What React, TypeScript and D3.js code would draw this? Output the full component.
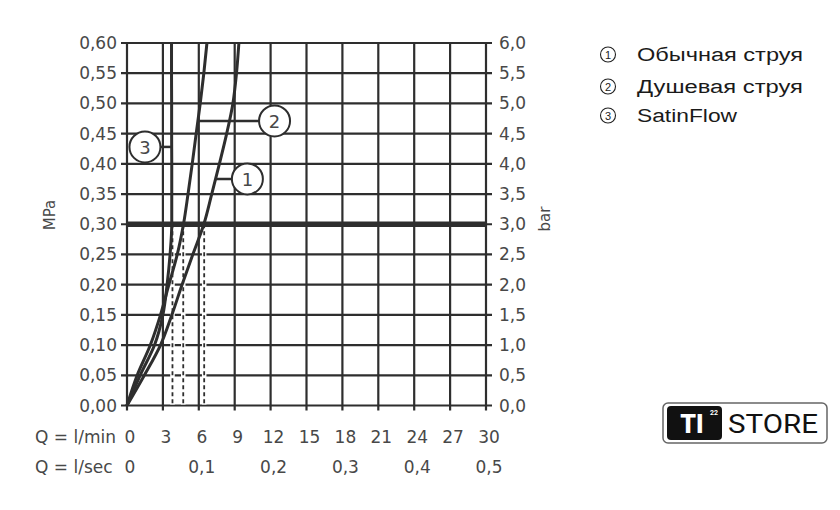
import React from 'react';
import * as d3 from 'd3';

// ---- data ----
const pressureMPa = [0, 0.05, 0.1, 0.15, 0.2, 0.25, 0.3, 0.35, 0.4, 0.45, 0.5, 0.55, 0.6];
const flowNormal = [0, 1.45, 2.8, 3.75, 4.6, 5.5, 6.42, 7.08, 7.72, 8.33, 8.85, 9.15, 9.35];
const flowShower = [0, 0.85, 1.95, 2.8, 3.5, 4.2, 4.72, 5.1, 5.45, 5.78, 6.12, 6.42, 6.68];
const flowSatin = [0, 1.1, 2.3, 3.0, 3.35, 3.6, 3.74, 3.74, 3.74, 3.73, 3.73, 3.72, 3.72];
const yTicksMPa = [0, 0.05, 0.1, 0.15, 0.2, 0.25, 0.3, 0.35, 0.4, 0.45, 0.5, 0.55, 0.6];
const xTicksLmin = [0, 3, 6, 9, 12, 15, 18, 21, 24, 27, 30];
const xTicksLsec = [0, 0.1, 0.2, 0.3, 0.4, 0.5];
const dashFlows = [3.8, 4.7, 6.45];
const refPressure = 0.3;
const legendLabels = ['Обычная струя', 'Душевая струя', 'SatinFlow'];
const legendWidths = [166, 166, 100];
const calloutNums = ['1', '2', '3'];
const calloutPressure = [0.375, 0.471, 0.428];
const calloutCenterFlow = [10.06, 12.33, 1.5];

const series = [flowNormal, flowShower, flowSatin];

const INK = '#2e2e2e';
const TXT = '#484848';
const FONT = '"DejaVu Sans", sans-serif';

function flowAt(flows: number[], p: number): number {
  const i = Math.min(d3.bisectRight(pressureMPa, p), pressureMPa.length - 1);
  const p0 = pressureMPa[i - 1], p1 = pressureMPa[i];
  const t = (p - p0) / (p1 - p0);
  return flows[i - 1] + t * (flows[i] - flows[i - 1]);
}

export default function App() {
  const x = d3.scaleLinear().domain([0, 30]).range([127, 486]);
  const y = d3.scaleLinear().domain([0, 0.6]).range([405.5, 43]);
  const [x0, x1] = x.range();
  const [y0, y1] = y.range();
  const fmt2 = (v: number) => d3.format('.2f')(v).replace('.', ',');
  const fmt1 = (v: number) => d3.format('.1f')(v).replace('.', ',');

  const line = d3
    .line<[number, number]>()
    .x((d) => x(d[0]))
    .y((d) => y(d[1]))
    .curve(d3.curveMonotoneY);

  return (
    <svg width={840} height={510} style={{ position: 'absolute', left: 0, top: 0, background: '#fff' }}>
      <rect x={0} y={0} width={840} height={510} fill="#fff" />
      {/* horizontal grid */}
      {yTicksMPa.map((v) => (
        <line key={'h' + v} x1={x0 - 6} x2={x1 + 6} y1={y(v)} y2={y(v)} stroke={INK} strokeWidth={2.2} />
      ))}
      {/* vertical grid */}
      {xTicksLmin.map((v) => (
        <line key={'v' + v} x1={x(v)} x2={x(v)} y1={y0 + 5} y2={y1} stroke={INK} strokeWidth={2.2} />
      ))}
      {/* dashed guide lines */}
      {dashFlows.map((f) => (
        <g key={'d' + f}>
          <line x1={x(f)} x2={x(f)} y1={y(refPressure)} y2={y0 - 1} stroke="#fff" strokeWidth={4.5} />
          <line x1={x(f)} x2={x(f)} y1={y(refPressure)} y2={y0 - 1} stroke={INK} strokeWidth={1.8} strokeDasharray="4,3" />
        </g>
      ))}
      {/* thick reference line */}
      <line x1={x0} x2={x1} y1={y(refPressure)} y2={y(refPressure)} stroke={INK} strokeWidth={5.5} />
      {/* curves */}
      {series.map((s, i) => (
        <path
          key={'c' + i}
          d={line(s.map((f, j) => [f, pressureMPa[j]] as [number, number])) || ''}
          fill="none"
          stroke={INK}
          strokeWidth={3}
        />
      ))}
      {/* callouts */}
      {calloutNums.map((n, i) => {
        const p = calloutPressure[i];
        const fc = flowAt(series[i], p);
        const cx = x(calloutCenterFlow[i]);
        const cy = y(p);
        return (
          <g key={'co' + n}>
            <line x1={x(fc)} x2={cx} y1={cy} y2={cy} stroke={INK} strokeWidth={2.5} />
            <circle cx={cx} cy={cy} r={15.5} fill="#fff" stroke={INK} strokeWidth={2} />
            <text x={cx} y={cy + 1} textAnchor="middle" dominantBaseline="central" fontFamily={FONT} fontSize={18} fill={TXT}>
              {n}
            </text>
          </g>
        );
      })}
      {/* left labels */}
      {yTicksMPa.map((v) => (
        <text key={'l' + v} x={117} y={y(v)} textAnchor="end" dominantBaseline="central" fontFamily={FONT} fontSize={17} fill={TXT}>
          {fmt2(v)}
        </text>
      ))}
      {/* right labels */}
      {yTicksMPa.map((v) => (
        <text key={'r' + v} x={499} y={y(v)} textAnchor="start" dominantBaseline="central" fontFamily={FONT} fontSize={17} fill={TXT}>
          {fmt1(v * 10)}
        </text>
      ))}
      <text transform={`translate(50,215) rotate(-90)`} textAnchor="middle" dominantBaseline="central" fontFamily={FONT} fontSize={15} fill={TXT}>
        MPa
      </text>
      <text transform={`translate(545,219) rotate(-90)`} textAnchor="middle" dominantBaseline="central" fontFamily={FONT} fontSize={15} fill={TXT}>
        bar
      </text>
      {/* bottom labels */}
      <text x={35} y={437} dominantBaseline="central" fontFamily={FONT} fontSize={17} fill={TXT}>
        Q = l/min
      </text>
      <text x={35} y={467} dominantBaseline="central" fontFamily={FONT} fontSize={17} fill={TXT}>
        Q = l/sec
      </text>
      {xTicksLmin.map((v) => (
        <text key={'b' + v} x={x(v) + 3} y={437} textAnchor="middle" dominantBaseline="central" fontFamily={FONT} fontSize={17} fill={TXT}>
          {v}
        </text>
      ))}
      {xTicksLsec.map((v) => (
        <text key={'s' + v} x={x(v * 60) + 3} y={467} textAnchor="middle" dominantBaseline="central" fontFamily={FONT} fontSize={17} fill={TXT}>
          {v === 0 ? '0' : d3.format('.1f')(v).replace('.', ',')}
        </text>
      ))}
      {/* legend */}
      {legendLabels.map((lab, i) => {
        const base = [61, 93, 122][i];
        return (
          <g key={'lg' + i}>
            <circle cx={608} cy={base - 6.5} r={7.5} fill="none" stroke="#222" strokeWidth={1.1} />
            <text x={608} y={base - 6} textAnchor="middle" dominantBaseline="central" fontFamily='"Liberation Sans", Arial, sans-serif' fontSize={11} fill="#222">
              {calloutNums[i]}
            </text>
            <text x={637} y={base} fontFamily='"Liberation Sans", Arial, sans-serif' fontSize={18} fill="#1a1a1a" textLength={legendWidths[i]} lengthAdjust="spacingAndGlyphs">
              {lab}
            </text>
          </g>
        );
      })}
      {/* logo */}
      <g>
        <rect x={663} y={403} width={164} height={40} rx={5} fill="#fff" stroke="#666" strokeWidth={1.5} />
        <rect x={667} y={406} width={55} height={34} rx={4} fill="#111" />
        <text x={692} y={424} textAnchor="middle" dominantBaseline="central" fontFamily='Roboto, "DejaVu Sans", sans-serif' fontWeight={900} fontSize={25} fill="#fff">
          TI
        </text>
        <text x={714} y={413} textAnchor="middle" dominantBaseline="central" fontFamily='Roboto, sans-serif' fontWeight={700} fontSize={7} fill="#fff">
          22
        </text>
        <text x={728} y={424} dominantBaseline="central" fontFamily='Roboto, "DejaVu Sans", sans-serif' fontSize={25} fill="#111" textLength={90} lengthAdjust="spacingAndGlyphs">
          STORE
        </text>
      </g>
    </svg>
  );
}
